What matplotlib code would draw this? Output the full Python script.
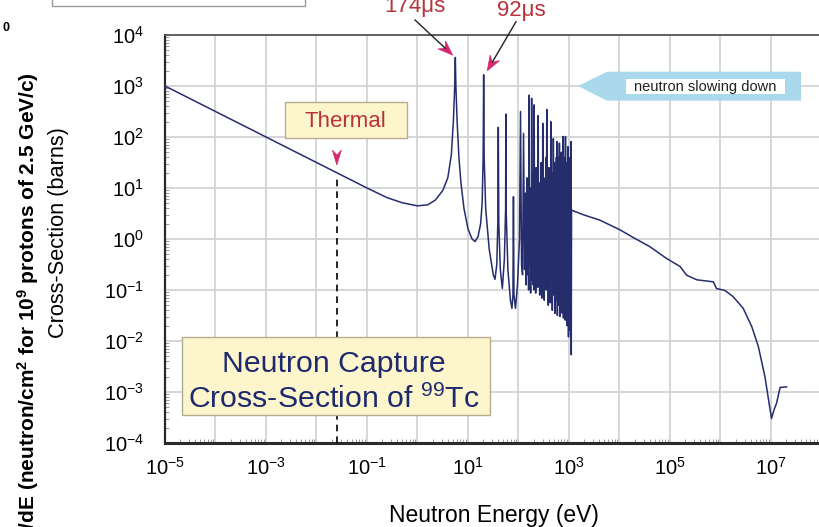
# Tc-99 neutron capture cross-section (cropped view of a larger figure)
import numpy as np
import matplotlib
matplotlib.use("Agg")
import matplotlib.pyplot as plt
from matplotlib.patches import Polygon, Rectangle
from matplotlib.lines import Line2D
from matplotlib.transforms import IdentityTransform
from matplotlib.ticker import FixedLocator, FuncFormatter, LogLocator, NullFormatter

plt.rcParams["font.family"] = ["Liberation Sans", "DejaVu Sans"]
plt.rcParams["mathtext.fontset"] = "custom"
plt.rcParams["mathtext.rm"] = "Liberation Sans"
plt.rcParams["mathtext.it"] = "Liberation Sans:italic"
plt.rcParams["mathtext.bf"] = "Liberation Sans:bold"

# --- data (log10 of energy in eV, log10 of barns) ---
# 1/v part, the 5.6 eV and 20.3 eV resonances and the first isolated ones
low_loge = [-5.0, -3.0, -1.6, -1.0, -0.6, -0.3, 0.0, 0.2, 0.35, 0.5,
            0.6, 0.67, 0.71, 0.735, 0.749, 0.76, 0.785, 0.82, 0.86, 0.92,
            1.0, 1.08, 1.14, 1.2, 1.25, 1.28, 1.30, 1.31, 1.32, 1.35,
            1.42, 1.5, 1.535, 1.57, 1.59, 1.60, 1.61, 1.64, 1.68, 1.72,
            1.745, 1.75, 1.755, 1.79, 1.84, 1.87, 1.89, 1.90, 1.91, 1.94,
            1.98, 2.02, 2.04, 2.06, 2.08, 2.10]
low_logxs = [3.0, 2.0, 1.3, 1.0, 0.81, 0.71, 0.65, 0.67, 0.76, 0.95,
             1.2, 1.65, 2.3, 2.95, 3.56, 3.0, 2.3, 1.6, 1.1, 0.6,
             0.2, 0.0, -0.05, 0.05, 0.3, 0.7, 1.6, 3.22, 1.6, 0.6,
             -0.2, -0.7, -0.79, -0.5, 0.3, 2.19, 0.3, -0.6, -0.97, -0.4,
             0.6, 2.45, 0.6, -0.6, -1.2, -1.36, -1.1, 0.83, -1.1, -1.36,
             -0.9, 0.0, 2.50, -0.5, -0.7, 2.07]

# unresolved-looking resonance forest, 130 eV - 1.1 keV (peaks and valleys)
dense_loge = [2.12, 2.135, 2.15, 2.165, 2.18, 2.19, 2.20, 2.21, 2.22, 2.23,
              2.24, 2.25, 2.255, 2.26, 2.27, 2.28, 2.29, 2.30, 2.305, 2.31,
              2.32, 2.33, 2.34, 2.35, 2.36, 2.37, 2.38, 2.39, 2.40, 2.41,
              2.42, 2.43, 2.44, 2.45, 2.46, 2.47, 2.475, 2.48, 2.49, 2.50,
              2.51, 2.52, 2.53, 2.54, 2.55, 2.56, 2.57, 2.58, 2.59, 2.60,
              2.61, 2.62, 2.63, 2.64, 2.65, 2.66, 2.67, 2.68, 2.685, 2.69,
              2.70, 2.71, 2.72, 2.73, 2.74, 2.75, 2.755, 2.76, 2.77, 2.78,
              2.79, 2.80, 2.805, 2.81, 2.82, 2.83, 2.84, 2.85, 2.86, 2.87,
              2.875, 2.88, 2.89, 2.90, 2.91, 2.92, 2.925, 2.93, 2.94, 2.95,
              2.96, 2.97, 2.975, 2.98, 2.99, 3.00, 3.01, 3.02, 3.03, 3.04,
              3.045]
dense_logxs = [-0.6, 0.9, -0.9, 1.2, -0.7, 0.6, -1.0, 2.82, -0.5, 1.0,
               -1.06, 0.4, -0.8, 2.76, -0.6, 1.3, -0.9, 0.7, -1.0, 2.63,
               -0.4, 0.9, -1.06, 1.4, -0.7, 0.5, -0.95, 2.42, -0.5, 1.1,
               -1.1, 0.8, -0.9, 1.5, -1.16, 0.6, -0.8, 2.27, -0.6, 1.2,
               -1.2, 0.9, -0.7, 1.6, -1.0, 2.54, -0.5, 1.0, -1.3, 1.4,
               -0.9, 0.7, -1.25, 2.30, -0.8, 1.3, -1.4, 0.9, -1.1, 1.97,
               -1.0, 1.5, -1.46, 1.1, -0.9, 1.6, -1.2, 1.91, -1.5, 1.2,
               -1.0, 1.6, -1.3, 1.88, -1.52, 1.3, -1.1, 1.7, -1.45, 1.2,
               -1.3, 2.01, -1.55, 1.4, -1.2, 1.6, -1.59, 2.01, -1.4, 1.5,
               -1.7, 1.3, -1.5, 1.81, -1.92, 1.6, -1.6, 1.4, -1.8, 1.91,
               -2.27]

# smooth high-energy tail
tail_loge = [3.05, 3.09, 3.3, 3.61, 4.01, 4.27, 4.6, 4.93, 5.2, 5.33,
             5.53, 5.86, 5.92, 6.09, 6.25, 6.45, 6.62, 6.75, 6.88, 6.96,
             7.01, 7.06, 7.11, 7.18, 7.31]
tail_logxs = [0.57, 0.55, 0.47, 0.37, 0.18, 0.03, -0.15, -0.38, -0.54, -0.71,
              -0.80, -0.84, -0.97, -1.01, -1.13, -1.36, -1.72, -2.11, -2.70, -3.2,
              -3.52, -3.35, -3.22, -2.91, -2.90]

energy = 10 ** np.array(low_loge + dense_loge + tail_loge)
xsec = 10 ** np.array(low_logxs + dense_logxs + tail_logxs)

thermal_ev = 0.0253
thermal_line_top = 16.0
peak_174 = (10 ** 0.749, 10 ** 3.56)
peak_92 = (10 ** 1.31, 10 ** 3.22)

x_decades = list(range(-5, 9))
y_decades = list(range(-4, 5))

# --- figure ---
W, H = 820, 527
fig = plt.figure(figsize=(W / 100, H / 100), dpi=100)


def fx(px):
    return px / W


def fy(py):
    return 1 - py / H


ax = fig.add_axes([fx(165), fy(443), 13.2 * 50.5 / W, 408 / H])
ax.set_xscale("log")
ax.set_yscale("log")
ax.set_xlim(1e-5, 10 ** 8.2)
ax.set_ylim(1e-4, 1e4)

ax.plot(energy, xsec, color="#252d6c", lw=1.1, zorder=3)
ax.plot([thermal_ev, thermal_ev], [1e-4, thermal_line_top], color="black",
        lw=1.2, ls=(0, (4, 3)), zorder=3)


def dec_label(v, pos, odd_only=False):
    e = int(round(np.log10(v)))
    if odd_only and e % 2 == 0:
        return ""
    return r"$\mathdefault{10^{%d}}$" % e


ax.xaxis.set_major_locator(FixedLocator([10.0 ** e for e in x_decades]))
ax.xaxis.set_major_formatter(FuncFormatter(lambda v, p: dec_label(v, p, True)))
ax.yaxis.set_major_locator(FixedLocator([10.0 ** e for e in y_decades]))
ax.yaxis.set_major_formatter(FuncFormatter(dec_label))
for axis in (ax.xaxis, ax.yaxis):
    axis.set_minor_locator(LogLocator(base=10, subs=np.arange(2, 10), numticks=200))
    axis.set_minor_formatter(NullFormatter())

ax.grid(True, which="major", color="#d3d3d3", lw=1.3, zorder=0)
ax.tick_params(which="both", direction="in", color="#9a9a9a", top=False, right=False)
ax.tick_params(which="major", length=0)
ax.tick_params(which="minor", length=3, width=0.7)
ax.tick_params(axis="x", labelsize=14.5, pad=10)
ax.tick_params(axis="y", labelsize=14.5, pad=15)

ax.spines["left"].set_color("#2a2a2a")
ax.spines["left"].set_linewidth(1.6)
ax.spines["bottom"].set_color("#2a2a2a")
ax.spines["bottom"].set_linewidth(2.2)
ax.spines["top"].set_color("#555555")
ax.spines["top"].set_linewidth(1.3)
ax.spines["right"].set_visible(False)

fig.text(fx(494), fy(521.7), "Neutron Energy (eV)", fontsize=16.5,
         ha="center", va="baseline")
fig.text(fx(59), fy(233), "Cross-Section (barns)", fontsize=15.7,
         rotation=90, ha="center", va="center")

# pieces of the neighbouring panel that the crop cuts through
fig.text(fx(28), fy(72),
         "d\u03a6/dE (neutron/cm$^{\\mathbf{2}}$ for 10$^{\\mathbf{9}}$ protons of 2.5 GeV/c)",
         fontsize=15, fontweight="bold", rotation=90, ha="center", va="top")
fig.text(fx(3), fy(28), "0", fontsize=9, fontweight="bold", ha="left", va="center")
fig.add_artist(Rectangle((51.7, H - 6), 253.3, 30, transform=IdentityTransform(),
                         fc="white", ec="#9a9a9a", lw=1.0))

# --- annotations (pixel positions, origin top-left) ---
ident = IdentityTransform()
head_color = "#d6286e"


def disp(px, py):
    return np.array([px, H - py], float)


def arrow(tail, tip, length=15, half=5.5, notch=5, shaft=True):
    tail = np.asarray(tail, float)
    tip = np.asarray(tip, float)
    d = tip - tail
    d /= np.hypot(*d)
    n = np.array([-d[1], d[0]])
    base = tip - d * length
    inner = tip - d * (length - notch)
    if shaft:
        fig.add_artist(Line2D([tail[0], inner[0]], [tail[1], inner[1]],
                              color="#222222", lw=1.0, transform=ident))
    fig.add_artist(Polygon([tip, base + n * half, inner, base - n * half],
                           closed=True, transform=ident, fc=head_color,
                           ec=head_color, lw=0.5))


box_fc = "#fdf6cc"
box_ec = "#b5ad8f"

# Thermal
fig.add_artist(Rectangle((285, H - 138.3), 121.7, 36, transform=ident,
                         fc=box_fc, ec=box_ec, lw=1.0))
fig.text(fx(345), fy(126.7), "Thermal", fontsize=16, color="#b8323a",
         ha="center", va="baseline")
t_tip = ax.transData.transform((thermal_ev, 10 ** 1.45))
arrow(t_tip + [0, 16], t_tip, length=15, half=4.5, notch=5, shaft=False)

# resonance times
fig.text(fx(415), fy(11.7), "174\u03bcs", fontsize=16, color="#b8323a",
         ha="center", va="baseline")
fig.text(fx(521), fy(16), "92\u03bcs", fontsize=16, color="#b8323a",
         ha="center", va="baseline")
arrow(disp(415, 20), ax.transData.transform(peak_174) + [-2.6, 2.3])
arrow(disp(516, 21.7), ax.transData.transform(peak_92) + [3.6, 4.0])

# neutron slowing down
fig.add_artist(Polygon([disp(578, 86), disp(607, 71.7), disp(801, 71.7),
                        disp(801, 100.7), disp(607, 100.7)], closed=True,
                       transform=ident, fc="#a9d9ea", ec="none"))
fig.add_artist(Rectangle((626, H - 94.3), 159, 15, transform=ident,
                         fc="white", ec="none"))
fig.text(fx(705.5), fy(86.8), "neutron slowing down", fontsize=10.5,
         color="#222222", ha="center", va="center")

# title box
fig.add_artist(Rectangle((181.7, H - 415), 308.3, 78.3, transform=ident,
                         fc=box_fc, ec=box_ec, lw=1.0))
fig.text(fx(334), fy(371.7), "Neutron Capture", fontsize=21.8,
         color="#1f2a6e", ha="center", va="baseline")
fig.text(fx(334), fy(408.3), "Cross-Section of $^{99}$Tc", fontsize=21.8,
         color="#1f2a6e", ha="center", va="baseline")

fig.savefig("out.png", dpi=100)
